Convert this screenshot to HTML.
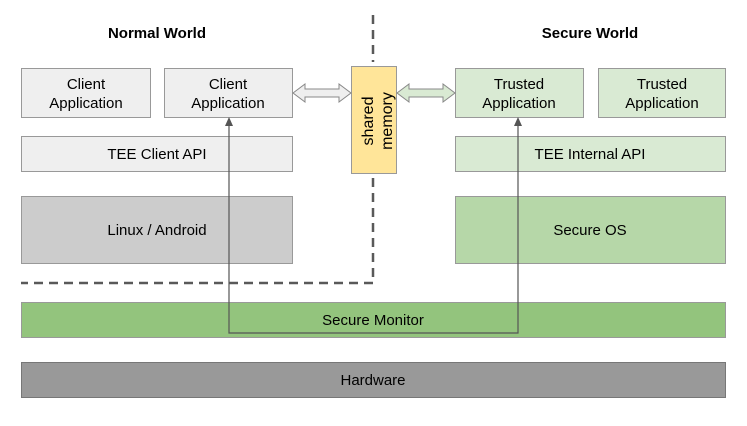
<!DOCTYPE html>
<html><head><style>
body{margin:0;background:#fff}
svg text{font-family:"Liberation Sans",Arial,sans-serif;font-size:15px;fill:#000}
</style></head><body>
<svg width="747" height="421" xmlns="http://www.w3.org/2000/svg">
<g stroke="#999" stroke-width="1">
<rect x="21.5" y="68.5" width="129" height="49" fill="#efefef"/>
<rect x="164.5" y="68.5" width="128" height="49" fill="#efefef"/>
<rect x="21.5" y="136.5" width="271" height="35" fill="#efefef"/>
<rect x="21.5" y="196.5" width="271" height="67" fill="#cccccc"/>
<rect x="455.5" y="68.5" width="128" height="49" fill="#d9ead3"/>
<rect x="598.5" y="68.5" width="127" height="49" fill="#d9ead3"/>
<rect x="455.5" y="136.5" width="270" height="35" fill="#d9ead3"/>
<rect x="455.5" y="196.5" width="270" height="67" fill="#b6d7a8"/>
<rect x="21.5" y="302.5" width="704" height="35" fill="#93c47d"/>
<rect x="21.5" y="362.5" width="704" height="35" fill="#999999" stroke="#777"/>
<rect x="351.5" y="66.5" width="45" height="107" fill="#ffe599"/>
</g>
<g stroke="#595959" stroke-width="2.5" stroke-dasharray="9,6" fill="none">
<path d="M373 15 V62"/>
<path d="M373 178 V283 H21"/>
</g>
<g stroke="#888" stroke-width="1">
<path d="M293 93 L305 84 V89 H339 V84 L351 93 L339 102 V97 H305 V102 Z" fill="#efefef"/>
<path d="M397 93 L409 84 V89 H443 V84 L455 93 L443 102 V97 H409 V102 Z" fill="#d9ead3"/>
</g>
<path d="M229 120 V333 H518 V120" fill="none" stroke="#555" stroke-width="1.2"/>
<path d="M229 117 L225 126 L233 126 Z M518 117 L514 126 L522 126 Z" fill="#555"/>
<g text-anchor="middle">
<text x="157" y="38" font-weight="bold">Normal World</text>
<text x="590" y="38" font-weight="bold">Secure World</text>
<text x="86" y="89">Client</text><text x="86" y="108">Application</text>
<text x="228" y="89">Client</text><text x="228" y="108">Application</text>
<text x="519" y="89">Trusted</text><text x="519" y="108">Application</text>
<text x="662" y="89">Trusted</text><text x="662" y="108">Application</text>
<text x="157" y="159">TEE Client API</text>
<text x="590" y="159">TEE Internal API</text>
<text x="157" y="235">Linux / Android</text>
<text x="590" y="235">Secure OS</text>
<text x="373" y="325">Secure Monitor</text>
<text x="373" y="385">Hardware</text>
<text transform="translate(373,121) rotate(-90)" style="font-size:16px">shared</text>
<text transform="translate(392,121) rotate(-90)" style="font-size:16px">memory</text>
</g>
</svg>
</body></html>
